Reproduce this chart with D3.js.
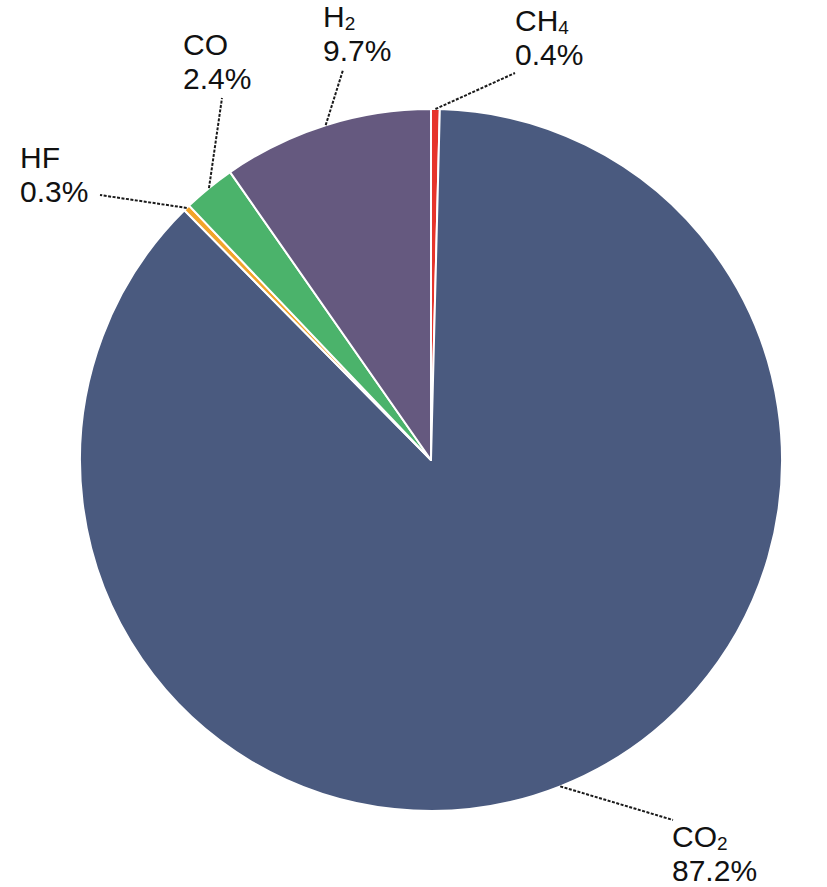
<!DOCTYPE html>
<html><head><meta charset="utf-8">
<script src="https://cdn.jsdelivr.net/npm/d3@7"></script>
<style>body{margin:0;background:#fff}svg{display:block}</style>
</head><body>
<script>
// Data (clockwise from 12 o'clock)
const gases = ["CH4", "CO2", "HF", "CO", "H2"];
const formulaMain = ["CH", "CO", "HF", "CO", "H"];
const formulaSub = ["4", "2", "", "", "2"];
const shares = [0.4, 87.2, 0.3, 2.4, 9.7];
const colors = ["#e6342b", "#4a5a7f", "#f2a42a", "#4bb36b", "#65597f"];
// label layout: leader end point and text anchor
const labelEnd = [[515, 73], [673, 820], [100, 195], [222, 98], [343, 70]];
const labelText = [[515, 31], [672, 847], [20, 168], [183, 55], [323, 27]];

const W = 827, H = 887, cx = 431, cy = 460, R = 351;
const svg = d3.select("body").append("svg").attr("width", W).attr("height", H);
const g = svg.append("g").attr("transform", `translate(${cx},${cy})`);

const data = gases.map((k, i) => ({ k, v: shares[i], i }));
const pie = d3.pie().value(d => d.v).sort(null);
const arcs = pie(data);
const arc = d3.arc().innerRadius(0).outerRadius(R);

g.selectAll("path.slice").data(arcs).join("path")
  .attr("class", "slice")
  .attr("d", arc)
  .attr("fill", d => colors[d.data.i])
  .attr("stroke", "#fff").attr("stroke-width", 2).attr("stroke-linejoin", "round");

// leader lines
arcs.forEach(a => {
  const m = (a.startAngle + a.endAngle) / 2;
  const x0 = cx + R * Math.sin(m), y0 = cy - R * Math.cos(m);
  const e = labelEnd[a.data.i];
  svg.append("line").attr("x1", x0).attr("y1", y0).attr("x2", e[0]).attr("y2", e[1])
    .attr("stroke", "#1a1a1a").attr("stroke-width", 2).attr("stroke-dasharray", "3,1.5");
});

// labels
const fs = 30;
data.forEach(d => {
  const p = labelText[d.i];
  const t = svg.append("text").attr("x", p[0]).attr("y", p[1])
    .attr("font-family", "Liberation Sans, Arial, sans-serif").attr("font-size", fs).attr("fill", "#111");
  t.append("tspan").text(formulaMain[d.i]);
  if (formulaSub[d.i]) t.append("tspan").attr("font-size", 19).attr("dy", 3).text(formulaSub[d.i]);
  svg.append("text").attr("x", p[0]).attr("y", p[1] + 34)
    .attr("font-family", "Liberation Sans, Arial, sans-serif").attr("font-size", fs).attr("fill", "#111")
    .text(d3.format(".1f")(d.v) + "%");
});
</script>
</body></html>
